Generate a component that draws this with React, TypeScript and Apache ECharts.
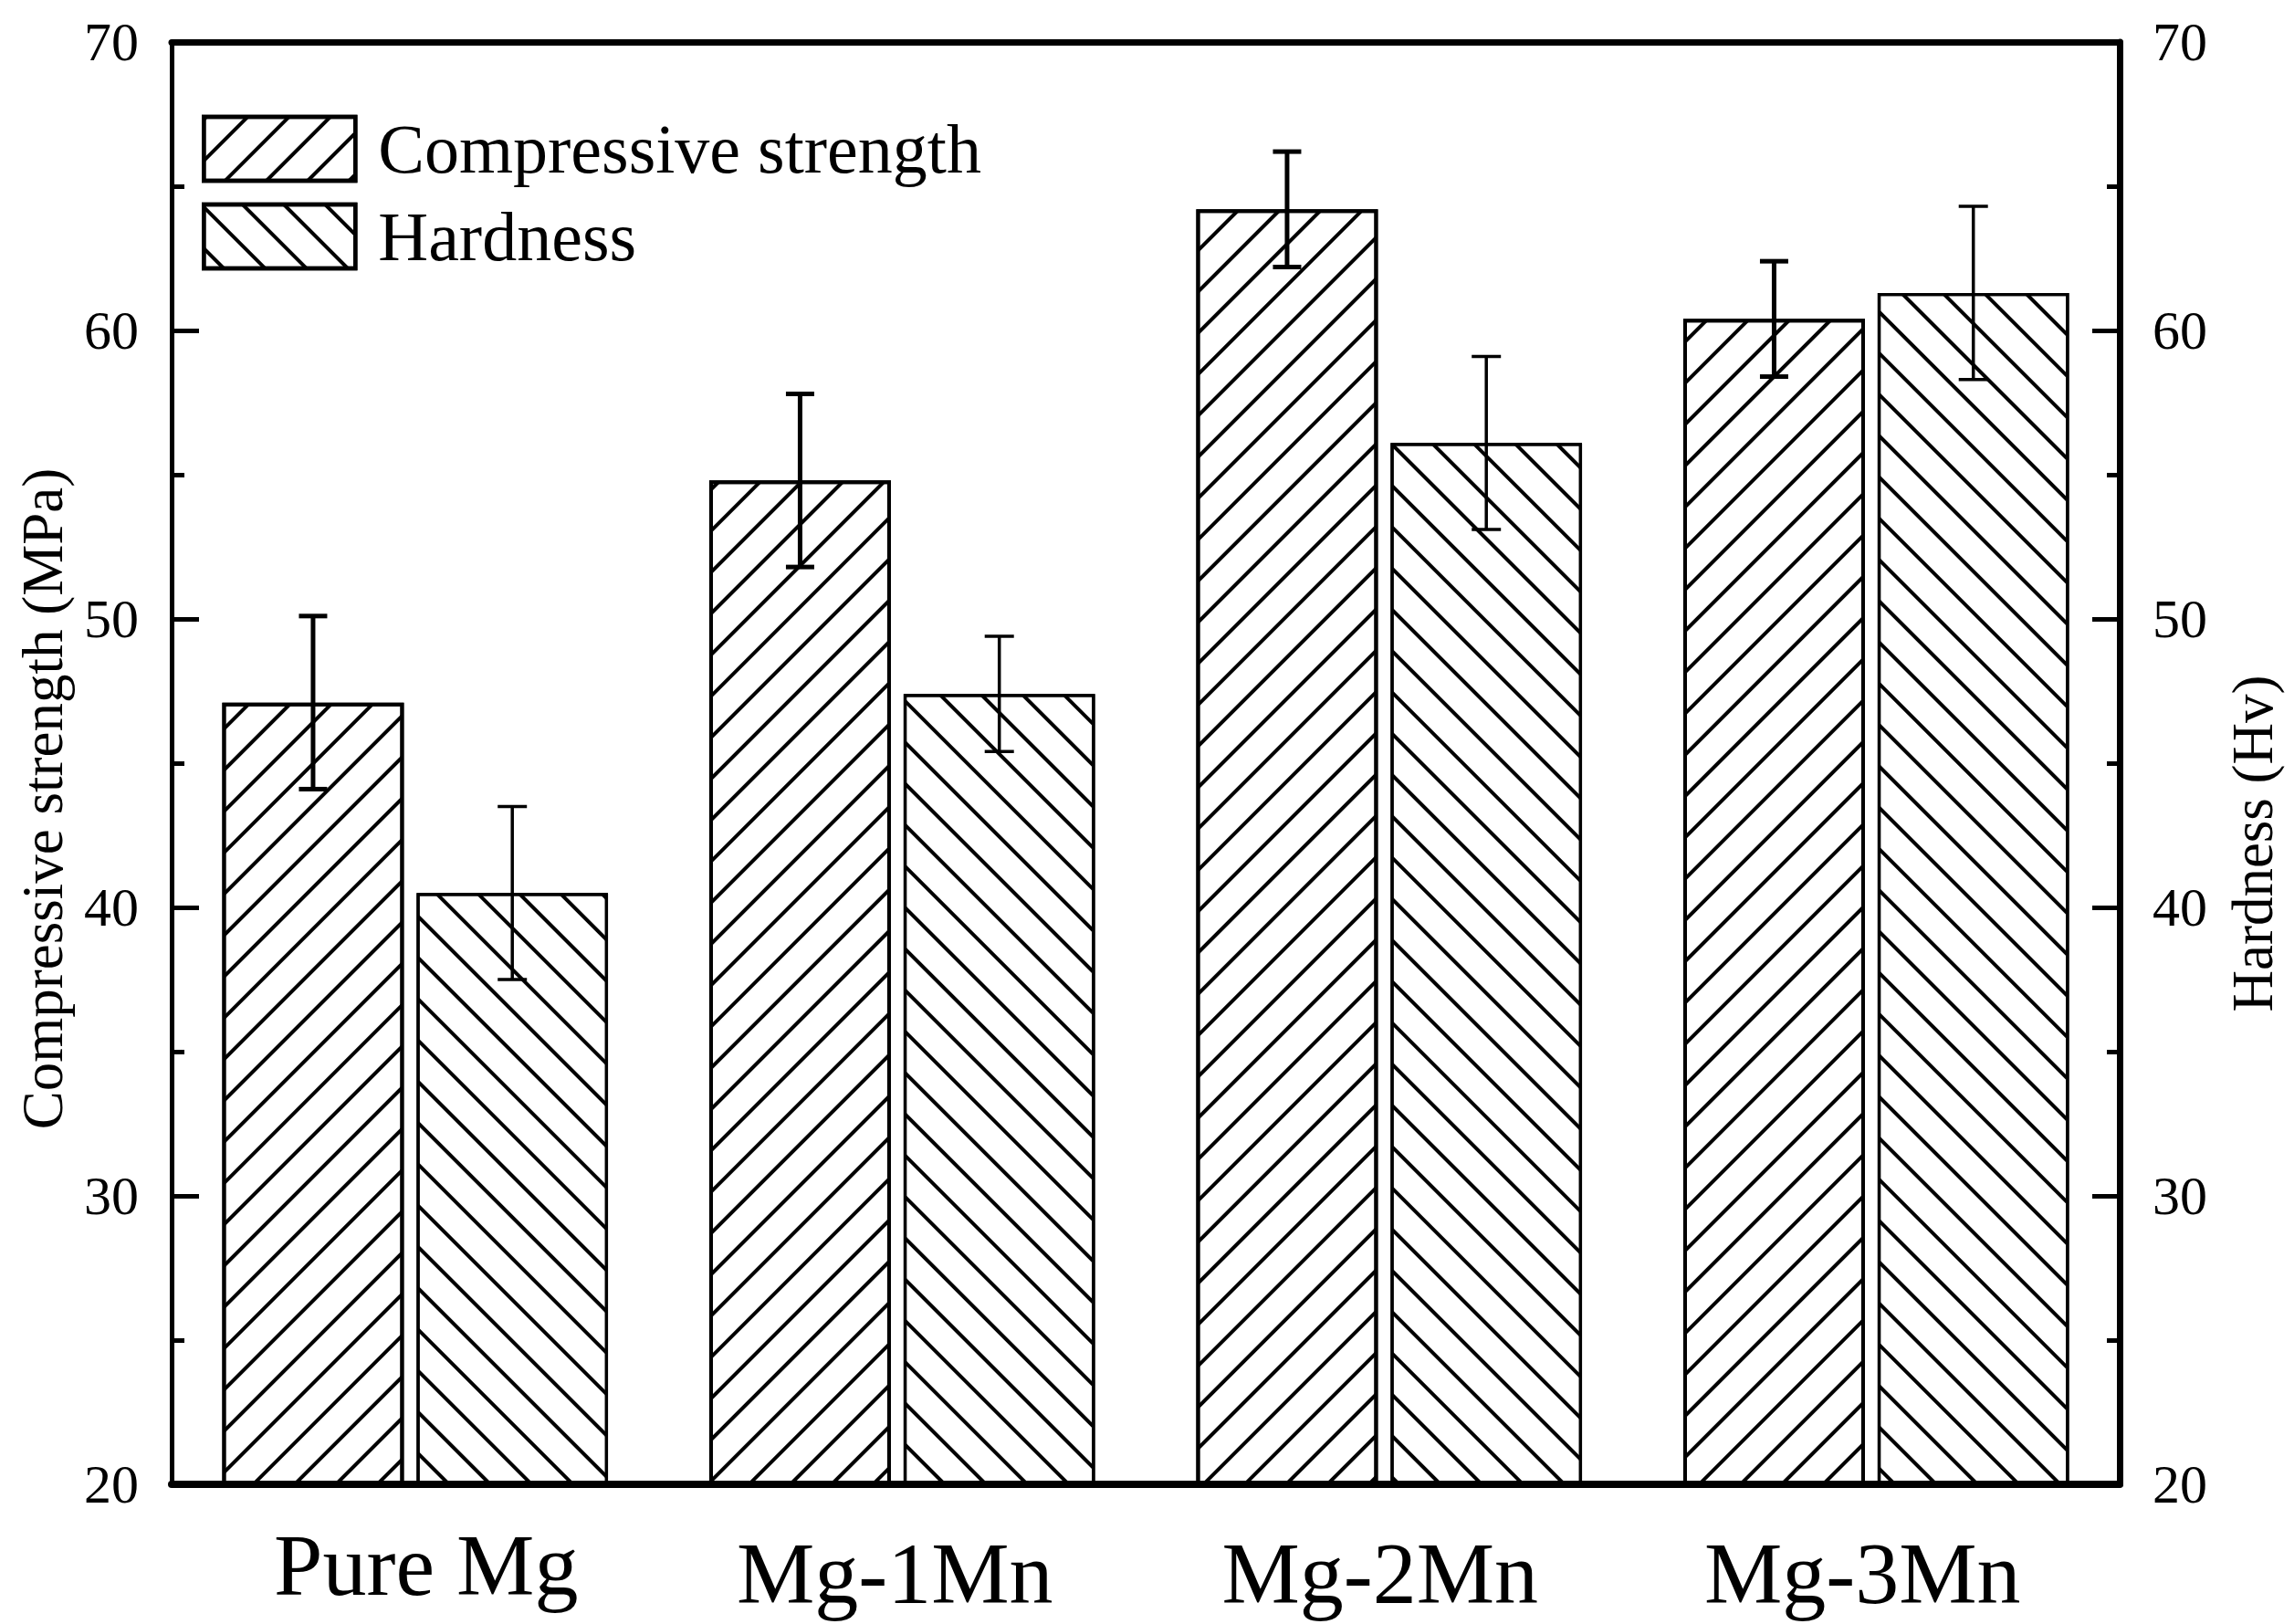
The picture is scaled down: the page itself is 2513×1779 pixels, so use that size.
import React, { useEffect, useRef } from 'react';
import * as echarts from 'echarts';

const categories = ['Pure Mg', 'Mg-1Mn', 'Mg-2Mn', 'Mg-3Mn'];
const compressiveStrength = [47.1, 54.8, 64.2, 60.4];
const compressiveError = [3.0, 3.0, 2.0, 2.0];
const hardness = [40.5, 47.4, 56.1, 61.3];
const hardnessError = [3.0, 2.0, 3.0, 3.0];
const yMin = 20;
const yMax = 70;
const yInterval = 10;
const seriesNames = ['Compressive strength', 'Hardness'];
const leftTitle = 'Compressive strength (MPa)';
const rightTitle = 'Hardness (Hv)';

const FONT = "'Times New Roman', 'Liberation Serif', serif";
const CS_W = 0.373;
const H_W = 0.393;
const GAP = 0.07;

function errRender(which: 'cs' | 'h', lw: number, cap: number) {
  return (params: any, api: any) => {
    const x = api.value(0);
    const lo = api.value(1);
    const hi = api.value(2);
    const band = api.size([1, 0])[0];
    const cw = band * CS_W;
    const hw = band * H_W;
    const g = cw * GAP;
    const sum = cw + g + hw;
    const off = which === 'cs' ? -sum / 2 + cw / 2 : -sum / 2 + cw + g + hw / 2;
    const pHi = api.coord([x, hi]);
    const pLo = api.coord([x, lo]);
    const cx = pHi[0] + off;
    const style = { stroke: '#000', lineWidth: lw, fill: null };
    return {
      type: 'group',
      children: [
        { type: 'line', shape: { x1: cx, y1: pHi[1], x2: cx, y2: pLo[1] }, style },
        { type: 'line', shape: { x1: cx - cap / 2, y1: pHi[1], x2: cx + cap / 2, y2: pHi[1] }, style },
        { type: 'line', shape: { x1: cx - cap / 2, y1: pLo[1], x2: cx + cap / 2, y2: pLo[1] }, style },
      ],
    };
  };
}

const labelPad = [
  [0, 0, 0, 24],
  [9, 16, 0, 0],
  [9, 20, 0, 0],
  [9, 30, 0, 0],
];

export default function App() {
  const ref = useRef<HTMLDivElement>(null);
  useEffect(() => {
    if (!ref.current) return;
    const chart = echarts.init(ref.current, undefined, { renderer: 'svg' });
    const rich: any = {};
    labelPad.forEach((p, i) => {
      rich['p' + i] = { fontSize: 96, fontFamily: FONT, color: '#000', padding: p };
    });
    const yAxisCommon = (pos: 'left' | 'right', lw: number) => ({
      type: 'value',
      position: pos,
      min: yMin,
      max: yMax,
      interval: yInterval,
      axisLine: { show: true, lineStyle: { color: '#000', width: lw } },
      axisTick: { show: true, inside: true, length: 30, lineStyle: { color: '#000', width: 5 } },
      minorTick: { show: true, splitNumber: 2, length: 14, lineStyle: { color: '#000', width: 5 } },
      splitLine: { show: false },
      minorSplitLine: { show: false },
      axisLabel: { color: '#000', fontSize: 60, fontFamily: FONT, margin: 36 },
    });
    chart.setOption({
      animation: false,
      backgroundColor: '#fff',
      textStyle: { fontFamily: FONT, color: '#000' },
      grid: { left: 188, right: 191, top: 46, bottom: 153, containLabel: false },
      legend: {
        orient: 'vertical',
        left: 216,
        top: 120,
        itemWidth: 166,
        itemHeight: 70,
        itemGap: 20,
        icon: 'rect',
        data: seriesNames,
        itemStyle: { borderColor: '#000', borderWidth: 4.5 },
        textStyle: { fontSize: 76, fontFamily: FONT, color: '#000', padding: [0, 0, 0, 20] },
      },
      xAxis: [
        {
          type: 'category',
          data: categories,
          position: 'bottom',
          z: 10,
          axisLine: { show: true, lineStyle: { color: '#000', width: 8 } },
          axisTick: { show: false },
          axisLabel: {
            margin: 40,
            formatter: (v: string, i: number) => `{p${i}|${v}}`,
            rich,
          },
        },
        {
          type: 'category',
          data: categories,
          position: 'top',
          z: 10,
          axisLine: { show: true, lineStyle: { color: '#000', width: 7 } },
          axisTick: { show: false },
          axisLabel: { show: false },
        },
      ],
      yAxis: [yAxisCommon('left', 5), yAxisCommon('right', 7)],
      graphic: [
        {
          type: 'text',
          x: 47,
          y: 875,
          rotation: Math.PI / 2,
          style: {
            text: leftTitle,
            fontSize: 63,
            fontFamily: FONT,
            fill: '#000',
            align: 'center',
            verticalAlign: 'middle',
            textAlign: 'center',
            textVerticalAlign: 'middle',
          },
        },
        {
          type: 'text',
          x: 2468,
          y: 924,
          rotation: Math.PI / 2,
          style: {
            text: rightTitle,
            fontSize: 63,
            fontFamily: FONT,
            fill: '#000',
            align: 'center',
            verticalAlign: 'middle',
            textAlign: 'center',
            textVerticalAlign: 'middle',
          },
        },
      ],
      series: [
        {
          name: seriesNames[0],
          type: 'bar',
          xAxisIndex: 0,
          yAxisIndex: 0,
          data: compressiveStrength,
          barWidth: (CS_W * 100).toFixed(1) + '%',
          barGap: (GAP * 100).toFixed(0) + '%',
          itemStyle: {
            color: '#fff',
            borderColor: '#000',
            borderWidth: 4,
            decal: {
              symbol: 'rect',
              symbolSize: 1,
              color: '#000',
              backgroundColor: 'rgba(0,0,0,0)',
              dashArrayX: [32, 0],
              dashArrayY: [4, 28],
              rotation: -Math.PI / 4,
            },
          },
        },
        {
          name: seriesNames[1],
          type: 'bar',
          xAxisIndex: 0,
          yAxisIndex: 1,
          data: hardness,
          barWidth: (H_W * 100).toFixed(1) + '%',
          barGap: (GAP * 100).toFixed(0) + '%',
          itemStyle: {
            color: '#fff',
            borderColor: '#000',
            borderWidth: 3.3,
            decal: {
              symbol: 'rect',
              symbolSize: 1,
              color: '#000',
              backgroundColor: 'rgba(0,0,0,0)',
              dashArrayX: [32, 0],
              dashArrayY: [4, 28],
              rotation: Math.PI / 4,
            },
          },
        },
        {
          type: 'custom',
          name: 'cs-err',
          xAxisIndex: 0,
          yAxisIndex: 0,
          z: 5,
          renderItem: errRender('cs', 5, 31),
          encode: { x: 0, y: [1, 2] },
          data: categories.map((_, i) => [i, compressiveStrength[i] - compressiveError[i], compressiveStrength[i] + compressiveError[i]]),
        },
        {
          type: 'custom',
          name: 'h-err',
          xAxisIndex: 0,
          yAxisIndex: 1,
          z: 5,
          renderItem: errRender('h', 3.5, 32),
          encode: { x: 0, y: [1, 2] },
          data: categories.map((_, i) => [i, hardness[i] - hardnessError[i], hardness[i] + hardnessError[i]]),
        },
      ],
    });
    return () => chart.dispose();
  }, []);
  return (
    <div
      ref={ref}
      style={{ position: 'fixed', left: 0, top: 0, width: 2513, height: 1779, background: '#fff' }}
    />
  );
}
